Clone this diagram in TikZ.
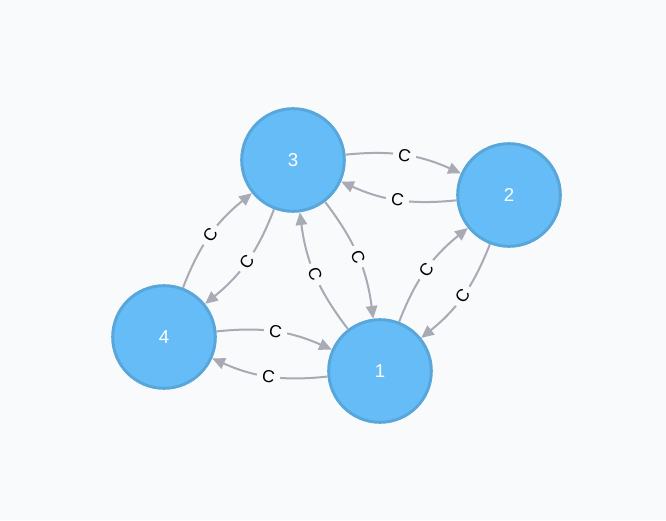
\documentclass[tikz,border=0pt]{standalone}
\usepackage{fontspec}
\setmainfont{Liberation Sans}
\usetikzlibrary{arrows.meta}
\definecolor{bgc}{RGB}{248,250,252}
\definecolor{vfill}{RGB}{102,188,246}
\definecolor{vline}{RGB}{88,166,218}
\definecolor{lnkc}{RGB}{168,170,180}

\begin{document}
\begin{tikzpicture}[x=.75pt,y=.75pt,
 vtx/.style={circle,fill=vfill,draw=vline,line width=2.2pt,minimum size=77pt,inner sep=0pt,text=white,font=\fontsize{14}{16}\selectfont},
 lnk/.style={draw=lnkc,line width=1.5pt,-{Triangle[length=9.5pt,width=8.5pt]}},
 lbl/.style={sloped,fill=bgc,inner xsep=4pt,inner ysep=1pt,text=black,font=\fontsize{13}{15}\selectfont}]
\fill[bgc] (0,0) rectangle (666,520);
\useasboundingbox (0,0) rectangle (666,520);
\node[vtx] (n3) at (293,360) {3};
\node[vtx] (n2) at (509,325) {2};
\node[vtx] (n4) at (164,183) {4};
\node[vtx] (n1) at (380,149) {1};
\foreach \a/\b in {3/2,2/3,4/1,1/4,4/3,3/4,3/1,1/3,1/2,2/1}
 \draw[lnk] (n\a) to[bend left=15] node[lbl] {C} (n\b);
\end{tikzpicture}
\end{document}
